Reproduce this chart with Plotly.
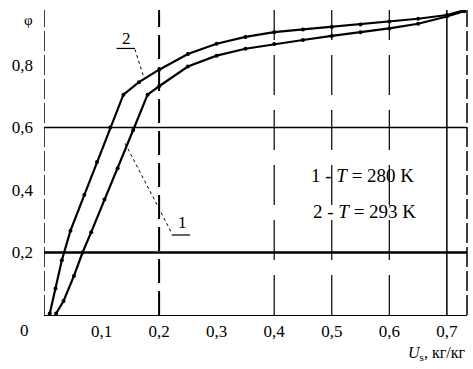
import plotly.graph_objects as go

# Curve 2: T = 293 K (upper / left curve)
u_293 = [0.010, 0.020, 0.031, 0.046, 0.070, 0.092, 0.115, 0.138, 0.165, 0.200, 0.250,
         0.300, 0.350, 0.400, 0.450, 0.500, 0.550, 0.600, 0.650, 0.700, 0.730]
phi_293 = [0.005, 0.085, 0.175, 0.270, 0.385, 0.490, 0.600, 0.705, 0.745, 0.785, 0.835,
           0.868, 0.890, 0.905, 0.914, 0.922, 0.930, 0.939, 0.948, 0.960, 0.975]

# Curve 1: T = 280 K (lower / right curve)
u_280 = [0.021, 0.034, 0.052, 0.067, 0.082, 0.105, 0.128, 0.155, 0.180, 0.200, 0.250,
         0.300, 0.350, 0.400, 0.450, 0.500, 0.550, 0.600, 0.650, 0.700, 0.730]
phi_280 = [0.005, 0.045, 0.125, 0.200, 0.265, 0.370, 0.470, 0.592, 0.705, 0.732, 0.795,
           0.830, 0.852, 0.867, 0.880, 0.893, 0.905, 0.917, 0.932, 0.955, 0.972]

x_tick_vals = [0.1, 0.2, 0.3, 0.4, 0.5, 0.6, 0.7]
x_tick_text = ["0,1", "0,2", "0,3", "0,4", "0,5", "0,6", "0,7"]
y_tick_vals = [0.2, 0.4, 0.6, 0.8]
y_tick_text = ["0,2", "0,4", "0,6", "0,8"]

dashed_grid_x = [0.4, 0.5, 0.6]
solid_grid_x = [0.7]
thick_dash_x = [0.2]
thin_h_y = [0.6]
thick_h_y = [0.2]

X_MAX = 0.735
Y_MAX = 0.976
FONT = "Liberation Serif, serif"

fig = go.Figure()
for u, phi in [(u_293, phi_293), (u_280, phi_280)]:
    fig.add_trace(go.Scatter(
        x=u, y=phi, mode="lines+markers",
        line=dict(color="black", width=2.2),
        marker=dict(color="black", size=4),
        showlegend=False, hoverinfo="skip"))

shapes = []
shapes.append(dict(type="line", xref="x", yref="paper", x0=0, x1=0, y0=0, y1=1,
                   line=dict(color="black", width=1.5, dash="20px,4px"), layer="below"))
shapes.append(dict(type="line", xref="paper", yref="paper", x0=1, x1=1, y0=0, y1=1,
                   line=dict(color="black", width=1.5, dash="20px,4px"), layer="below"))
for xv in thick_dash_x:
    shapes.append(dict(type="line", xref="x", yref="paper", x0=xv, x1=xv, y0=0, y1=1,
                       line=dict(color="black", width=2, dash="24px,8px"), layer="below"))
for xv in dashed_grid_x:
    shapes.append(dict(type="line", xref="x", yref="paper", x0=xv, x1=xv, y0=0, y1=1,
                       line=dict(color="black", width=1.2, dash="40px,15px"), layer="below"))
for xv in solid_grid_x:
    shapes.append(dict(type="line", xref="x", yref="paper", x0=xv, x1=xv, y0=0, y1=1,
                       line=dict(color="black", width=1.5), layer="below"))
for yv in thin_h_y:
    shapes.append(dict(type="line", xref="paper", yref="y", x0=0, x1=1, y0=yv, y1=yv,
                       line=dict(color="black", width=1.3), layer="below"))
for yv in thick_h_y:
    shapes.append(dict(type="line", xref="paper", yref="y", x0=0, x1=1, y0=yv, y1=yv,
                       line=dict(color="black", width=2.6), layer="below"))

# label leaders
shapes.append(dict(type="line", xref="x", yref="y", x0=0.126, x1=0.158, y0=0.853, y1=0.853,
                   line=dict(color="black", width=1.2)))
shapes.append(dict(type="line", xref="x", yref="y", x0=0.158, x1=0.173, y0=0.850, y1=0.763,
                   line=dict(color="black", width=1, dash="dot")))
shapes.append(dict(type="line", xref="x", yref="y", x0=0.222, x1=0.254, y0=0.256, y1=0.256,
                   line=dict(color="black", width=1.2)))
shapes.append(dict(type="line", xref="x", yref="y", x0=0.141, x1=0.222, y0=0.549, y1=0.262,
                   line=dict(color="black", width=1, dash="dot")))

annotations = [
    dict(text="2", x=0.144, y=0.885, xref="x", yref="y", showarrow=False,
         font=dict(family=FONT, size=17, color="black")),
    dict(text="1", x=0.240, y=0.295, xref="x", yref="y", showarrow=False,
         font=dict(family=FONT, size=17, color="black")),
    dict(text="1 - <i>T</i> = 280 K", x=0.553, y=0.448, xref="x", yref="y", showarrow=False,
         font=dict(family=FONT, size=19, color="black")),
    dict(text="2 - <i>T</i> = 293 K", x=0.557, y=0.330, xref="x", yref="y", showarrow=False,
         font=dict(family=FONT, size=19, color="black")),
    dict(text="0", x=-0.045, y=-0.012, xref="paper", yref="paper", showarrow=False,
         xanchor="center", yanchor="top",
         font=dict(family=FONT, size=17, color="black")),
    dict(text="φ", x=-0.052, y=1.0, xref="paper", yref="paper", showarrow=False,
         font=dict(family=FONT, size=15, color="black")),
    dict(text="<i>U</i><sub>s</sub>, кг/кг", x=1, y=-0.09, xref="paper", yref="paper",
         xanchor="right", yanchor="top", showarrow=False,
         font=dict(family=FONT, size=16, color="black")),
]

fig.update_layout(
    width=473, height=369,
    margin=dict(l=44, r=6, t=10, b=54),
    paper_bgcolor="white", plot_bgcolor="white",
    shapes=shapes, annotations=annotations,
    font=dict(family=FONT, color="black"),
    xaxis=dict(range=[0, X_MAX], tickvals=x_tick_vals, ticktext=x_tick_text,
               showgrid=False, zeroline=False, showline=True, linecolor="black",
               linewidth=1.3, ticks="", ticklabelstandoff=0,
               tickfont=dict(family=FONT, size=17, color="black")),
    yaxis=dict(range=[0, Y_MAX], tickvals=y_tick_vals, ticktext=y_tick_text,
               showgrid=False, zeroline=False, showline=False, ticks="",
               ticklabelstandoff=10,
               tickfont=dict(family=FONT, size=17, color="black")),
)

fig.write_html("out.html", config={"displayModeBar": False},
               post_script="document.body.style.margin='0px';")
